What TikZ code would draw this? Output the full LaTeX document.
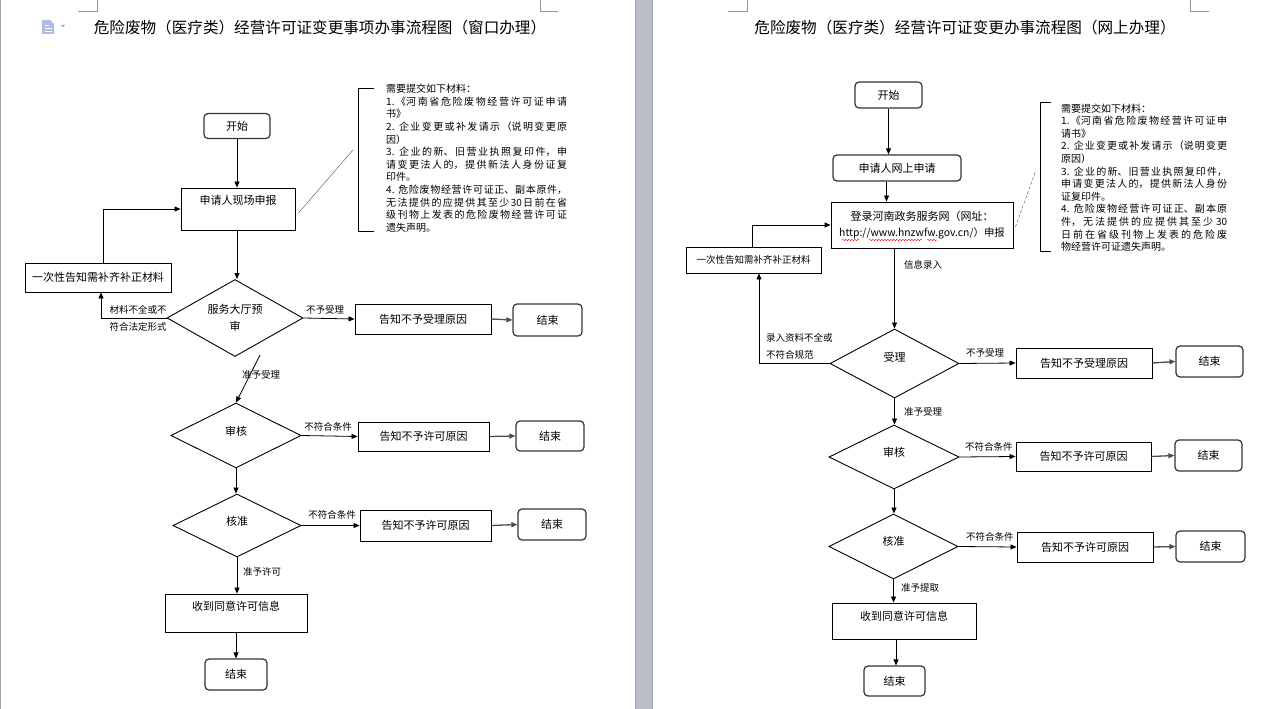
\documentclass[tikz,border=0pt]{standalone}
\usepackage{fontspec}
\setmainfont{Noto Sans CJK SC}
\usetikzlibrary{shapes.geometric,arrows.meta,decorations.pathmorphing}
\XeTeXlinebreaklocale "zh"
\XeTeXlinebreakskip=0pt plus 3pt
\definecolor{bandgray}{RGB}{185,189,201}
\definecolor{bandedge}{RGB}{160,164,176}
\definecolor{markgray}{RGB}{150,150,150}
\definecolor{iconblue}{RGB}{172,192,228}
\begin{document}
\begin{tikzpicture}[x=1pt,y=-1pt,
  box/.style={draw=black, line width=0.9pt, inner sep=0pt, font=\fontsize{11}{13}\selectfont},
  term/.style={draw=black!80, line width=1.2pt, rounded corners=4pt, inner sep=0pt, font=\fontsize{11}{13}\selectfont},
  dia/.style={diamond, draw=black, line width=0.9pt, inner sep=0pt},
  txt/.style={inner sep=0pt, font=\fontsize{11}{13}\selectfont},
  lab/.style={inner sep=0pt, font=\fontsize{9.5}{11}\selectfont},
  arr/.style={-{Triangle[length=6pt,width=5pt]}, line width=0.8pt},
  garr/.style={-{Triangle[length=6pt,width=5pt]}, draw=black!70, line width=1.3pt},
  note/.style={inner sep=0pt, anchor=north west, align=justify, font=\fontsize{10}{12.6}\selectfont},
  cornermark/.style={draw=markgray, line width=0.8pt},
]
\useasboundingbox (0,0) rectangle (1286,709);
\fill[white] (0,0) rectangle (1286,709);
% page frame and separator band
\draw[draw=bandedge, line width=0.8pt] (0.5,0) -- (0.5,709);
\fill[bandgray] (635,0) rectangle (652,709);
\draw[draw=bandedge, line width=0.6pt] (635,0) -- (635,709);
\draw[draw=bandedge, line width=0.6pt] (652,0) -- (652,709);
% corner marks
\draw[cornermark] (97,0) -- (97,11) -- (78,11);
\draw[cornermark] (540,0) -- (540,11) -- (558,11);
\draw[cornermark] (747,0) -- (747,11) -- (728,11);
\draw[cornermark] (1190,0) -- (1190,11) -- (1209,11);
% document icon
\fill[iconblue] (42,20) -- (50,20) -- (54,24) -- (54,34) -- (42,34) -- cycle;
\draw[white, line width=0.8pt] (44.5,25) -- (49,25) (44.5,28) -- (52,28) (44.5,31) -- (52,31);
\fill[black!35] (61,25) -- (65,25) -- (63,27.5) -- cycle;

% ================= LEFT PAGE =================
\node[font=\fontsize{15.6}{18}\selectfont, inner sep=0pt] (Ltitle) at (320,28) {危险废物（医疗类）经营许可证变更事项办事流程图（窗口办理）};

\node[term, minimum width=66pt, minimum height=25pt] (Lstart) at (237,126) {开始};
\node[box, minimum width=114pt, minimum height=42pt] (Lapply) at (238,209) {};
\node[txt] (Lapplyt) at ([yshift=-13pt]Lapply.north) {申请人现场申报};
\node[box, minimum width=146pt, minimum height=29pt] (Lnotify) at (98,277.5) {一次性告知需补齐补正材料};
\node[dia, minimum width=136pt, minimum height=77pt] (Lpre) at (235,318) {};
\node[txt, align=center, font=\fontsize{11}{17}\selectfont] (Lpret) at (Lpre) {服务大厅预\\审};
\node[box, minimum width=136pt, minimum height=30pt] (Lrej1) at (423,319) {告知不予受理原因};
\node[term, minimum width=69pt, minimum height=32pt] (Lend1) at (547.5,320) {结束};
\node[dia, minimum width=130pt, minimum height=65pt] (Lrev) at (236,435.5) {};
\node[txt] (Lrevt) at ([yshift=4pt]Lrev.center) {审核};
\node[box, minimum width=131pt, minimum height=29pt] (Lrej2) at (423.5,436.5) {告知不予许可原因};
\node[term, minimum width=68pt, minimum height=30pt] (Lend2) at (550,436) {结束};
\node[dia, minimum width=128pt, minimum height=63pt] (Lapp) at (237,525.5) {};
\node[txt] (Lappt) at ([yshift=4pt]Lapp.center) {核准};
\node[box, minimum width=131pt, minimum height=31pt] (Lrej3) at (425.5,525.5) {告知不予许可原因};
\node[term, minimum width=68pt, minimum height=31pt] (Lend3) at (552,524.5) {结束};
\node[box, minimum width=142pt, minimum height=38pt] (Lrecv) at (236,613) {};
\node[txt] (Lrecvt) at ([yshift=-13pt]Lrecv.north) {收到同意许可信息};
\node[term, minimum width=62pt, minimum height=31pt] (Lend4) at (236,674.5) {结束};

% left annotation
\node[note, text width=181pt] (Lnote) at (386,84) {需要提交如下材料：\newline
1.《河南省危险废物经营许可证申请\linebreak
书》\newline
2. 企业变更或补发请示（说明变更原\linebreak
因）\newline
3. 企业的新、旧营业执照复印件，申\linebreak
请变更法人的，提供新法人身份证复\linebreak
印件。\newline
4. 危险废物经营许可证正、副本原件，\linebreak
无法提供的应提供其至少30日前在省\linebreak
级刊物上发表的危险废物经营许可证\linebreak
遗失声明。};
\draw[line width=0.8pt] (374,88) -- (358,88) -- (358,231) -- (374,231);
\coordinate (Lbr) at (353,150);
\draw[line width=0.4pt, black!70] ([xshift=3pt,yshift=-4pt]Lapply.east) -- (Lbr);

% left connectors
\draw[arr] (Lstart.south) -- (Lstart.south |- Lapply.north);
\draw[arr] (Lapply.south -| Lstart.south) -- (Lstart.south |- Lpre.north);
\draw[arr] (Lpre.west) -| ([xshift=3pt]Lnotify.south);
\draw[arr] ([xshift=5pt]Lnotify.north) |- (Lapply.west);
\node[lab] (Lla) at (138,310) {材料不全或不};
\node[lab] (Llb) at (138,327) {符合法定形式};
\draw[arr] (Lpre.east) -- (Lrej1.west);
\node[lab] (Llc) at (325,310) {不予受理};
\draw[garr] (Lrej1.east) -- (Lend1.west);
\coordinate (Lslant) at (260,355);
\draw[arr] (Lslant) -- (Lrev.north);
\node[lab] (Lld) at (261,375) {准予受理};
\draw[arr] (Lrev.east) -- (Lrej2.west);
\node[lab] (Lle) at (328,427) {不符合条件};
\draw[garr] (Lrej2.east) -- (Lend2.west);
\draw[arr] (Lrev.south) -- (Lrev.south |- Lapp.north);
\draw[arr] (Lapp.east) -- (Lrej3.west);
\node[lab] (Llf) at (332,515) {不符合条件};
\draw[garr] (Lrej3.east) -- (Lend3.west);
\draw[arr] (Lapp.south) -- (Lapp.south |- Lrecv.north);
\node[lab] (Llg) at (262,572) {准予许可};
\draw[arr] (Lrecv.south) -- (Lend4.north);

% ================= RIGHT PAGE =================
\node[font=\fontsize{15.6}{18}\selectfont, inner sep=0pt] (Rtitle) at (965,28) {危险废物（医疗类）经营许可证变更办事流程图（网上办理）};

\node[term, minimum width=67pt, minimum height=26pt] (Rstart) at (888.5,95) {开始};
\node[term, minimum width=128pt, minimum height=26pt] (Rapply) at (897,168) {申请人网上申请};
\node[box, minimum width=182pt, minimum height=46pt, align=center, font=\fontsize{11}{16}\selectfont] (Rlogin) at (922,225) {登录河南政务服务网（网址：\\{\fontsize{10.4}{16}\selectfont http://www.hnzwfw.gov.cn/）申报}};
\node[box, minimum width=135pt, minimum height=26pt, font=\fontsize{9.5}{11}\selectfont] (Rnotify) at (753.5,260) {一次性告知需补齐补正材料};
\node[dia, minimum width=129pt, minimum height=69pt] (Racc) at (894.5,363.5) {};
\node[txt] (Racct) at ([yshift=6pt]Racc.center) {受理};
\node[box, minimum width=136pt, minimum height=30pt] (Rrej1) at (1084,363) {告知不予受理原因};
\node[term, minimum width=67pt, minimum height=31pt] (Rend1) at (1209.5,361.5) {结束};
\node[dia, minimum width=130pt, minimum height=64pt] (Rrev) at (894,457) {};
\node[txt] (Rrevt) at ([yshift=5pt]Rrev.center) {审核};
\node[box, minimum width=135pt, minimum height=29pt] (Rrej2) at (1083.5,456.5) {告知不予许可原因};
\node[term, minimum width=67pt, minimum height=31pt] (Rend2) at (1208.5,455.5) {结束};
\node[dia, minimum width=129pt, minimum height=65pt] (Rapp) at (893.5,546.5) {};
\node[txt] (Rappt) at ([yshift=5pt]Rapp.center) {核准};
\node[box, minimum width=136pt, minimum height=30pt] (Rrej3) at (1085,547) {告知不予许可原因};
\node[term, minimum width=69pt, minimum height=31pt] (Rend3) at (1210.5,546.5) {结束};
\node[box, minimum width=144pt, minimum height=36pt] (Rrecv) at (904,621) {};
\node[txt] (Rrecvt) at ([yshift=-14pt]Rrecv.north) {收到同意许可信息};
\node[term, minimum width=61pt, minimum height=30pt] (Rend4) at (894.5,681) {结束};

% spell-check wavy underline
\coordinate (Rw1a) at (842,240); \coordinate (Rw1b) at (859,240);
\coordinate (Rw2a) at (869,240); \coordinate (Rw2b) at (922,240);
\coordinate (Rw3a) at (927,240); \coordinate (Rw3b) at (937,240);
\draw[red, line width=0.4pt, decorate, decoration={snake, amplitude=0.7pt, segment length=3pt}] (Rw1a) -- (Rw1b);
\draw[red, line width=0.4pt, decorate, decoration={snake, amplitude=0.7pt, segment length=3pt}] (Rw2a) -- (Rw2b);
\draw[red, line width=0.4pt, decorate, decoration={snake, amplitude=0.7pt, segment length=3pt}] (Rw3a) -- (Rw3b);

% right annotation
\node[note, text width=166pt] (Rnote) at (1061,103.5) {需要提交如下材料：\newline
1.《河南省危险废物经营许可证申\linebreak
请书》\newline
2. 企业变更或补发请示（说明变更\linebreak
原因）\newline
3. 企业的新、旧营业执照复印件，\linebreak
申请变更法人的，提供新法人身份\linebreak
证复印件。\newline
4. 危险废物经营许可证正、副本原\linebreak
件，无法提供的应提供其至少 30\linebreak
日前在省级刊物上发表的危险废\linebreak
物经营许可证遗失声明。};
\draw[line width=0.8pt] (1051,102) -- (1040,102) -- (1040,251) -- (1051,251);
\coordinate (Rbr) at (1036,170);
\draw[line width=0.4pt, black!70, densely dashed] ([xshift=2pt,yshift=-2pt]Rlogin.east) -- (Rbr);

% right connectors
\draw[arr] (Rstart.south) -- (Rstart.south |- Rapply.north);
\draw[arr] ([xshift=-2pt]Rapply.south -| Rstart.south) -- ([xshift=-2pt]Rstart.south |- Rlogin.north);
\draw[arr] (Racc.north |- Rlogin.south) -- (Racc.north);
\node[lab, anchor=west] (Rla) at (904,265) {信息录入};
\draw[arr] (Racc.west) -| ([xshift=5.5pt]Rnotify.south);
\draw[arr] ([xshift=-1.5pt]Rnotify.north) |- (Rlogin.west);
\node[lab, anchor=west] (Rlb) at (766,338) {录入资料不全或};
\node[lab, anchor=west] (Rlc) at (766,355) {不符合规范};
\draw[arr] (Racc.east) -- (Rrej1.west);
\node[lab, anchor=west] (Rld) at (966,353) {不予受理};
\draw[garr] (Rrej1.east) -- (Rend1.west);
\draw[arr] (Racc.south) -- (Racc.south |- Rrev.north);
\node[lab, anchor=west] (Rle) at (904,412) {准予受理};
\draw[arr] (Rrev.east) -- (Rrej2.west);
\node[lab, anchor=west] (Rlf) at (965,447) {不符合条件};
\draw[garr] (Rrej2.east) -- (Rend2.west);
\draw[arr] (Rrev.south) -- (Rrev.south |- Rapp.north);
\draw[arr] (Rapp.east) -- (Rrej3.west);
\node[lab, anchor=west] (Rlg) at (966,537) {不符合条件};
\draw[garr] (Rrej3.east) -- (Rend3.west);
\draw[arr] (Rapp.south) -- (Rapp.south |- Rrecv.north);
\node[lab, anchor=west] (Rlh) at (901,588) {准予提取};
\draw[arr] ([xshift=1.5pt]Rend4.north |- Rrecv.south) -- ([xshift=1.5pt]Rend4.north);
\end{tikzpicture}
\end{document}
